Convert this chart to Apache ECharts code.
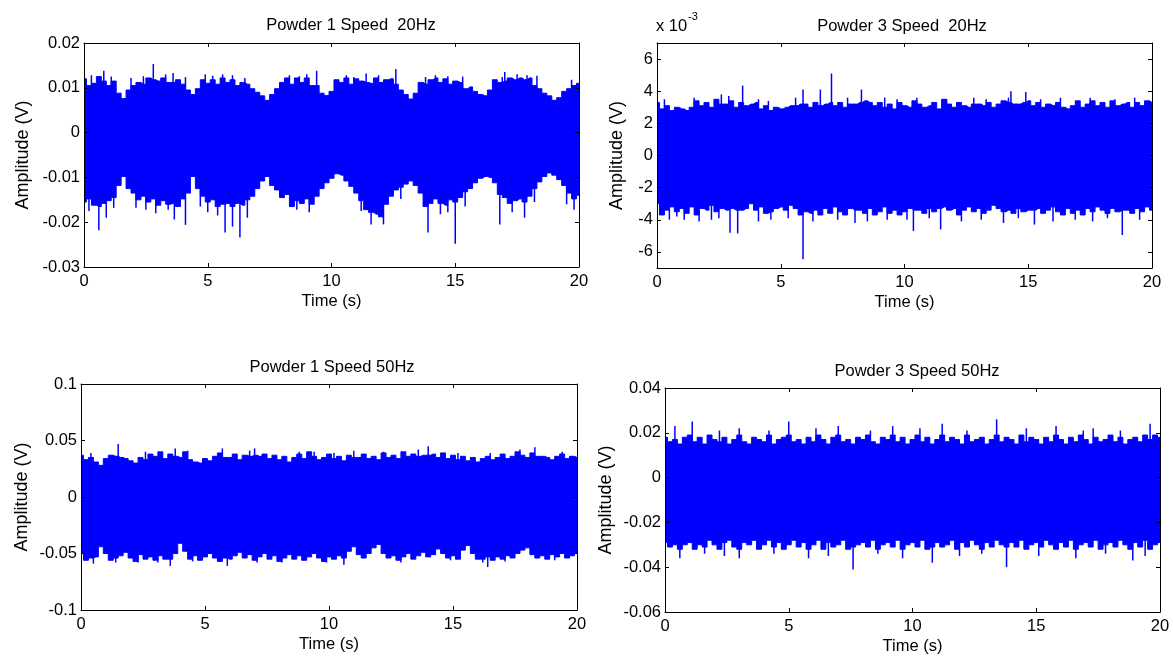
<!DOCTYPE html>
<html><head><meta charset="utf-8">
<script src="https://cdn.jsdelivr.net/npm/echarts@6/dist/echarts.min.js"></script>
<style>html,body{margin:0;padding:0;background:#fff}#c{width:1173px;height:659px}</style>
</head><body><div id="c"></div>
<script>
// ---------- data ----------
const EDGE_STEP = 0.2;   // s between envelope samples
const xTicks = [0, 5, 10, 15, 20];
const titles = ['Powder 1 Speed  20Hz', 'Powder 3 Speed  20Hz', 'Powder 1 Speed 50Hz', 'Powder 3 Speed 50Hz'];
const yTicks1 = [-0.03, -0.02, -0.01, 0, 0.01, 0.02];
const yTicks2 = [-6, -4, -2, 0, 2, 4, 6];          // x 10^-3
const yTicks3 = [-0.1, -0.05, 0, 0.05, 0.1];
const yTicks4 = [-0.06, -0.04, -0.02, 0, 0.02, 0.04];

// Panel 1 : Powder 1, 20 Hz (V) — upper / lower envelope every 0.2 s, plus isolated spikes [t, v]
const p1Hi = [0.012,0.0105,0.011,0.0125,0.0115,0.0105,0.0115,0.0088,0.0076,0.0095,0.0105,0.0112,0.0108,0.0122,0.0118,0.0115,0.0122,0.0112,0.0112,0.0118,0.0108,0.0095,0.0085,0.0098,0.0118,0.011,0.0118,0.0108,0.0122,0.0112,0.0118,0.0105,0.0112,0.0108,0.0098,0.009,0.0082,0.0072,0.0085,0.0098,0.0112,0.0122,0.0108,0.0122,0.0112,0.0122,0.0105,0.0105,0.0088,0.0083,0.0092,0.0118,0.0112,0.0122,0.0108,0.012,0.0115,0.0112,0.011,0.0122,0.0112,0.0118,0.012,0.0108,0.0095,0.0085,0.0075,0.0088,0.0112,0.0108,0.0118,0.0122,0.0112,0.012,0.0108,0.0115,0.0112,0.0098,0.0102,0.0092,0.0085,0.0082,0.0095,0.0118,0.0112,0.0115,0.0122,0.0118,0.0122,0.0118,0.0122,0.0105,0.0098,0.0088,0.0082,0.0072,0.0078,0.0092,0.0098,0.0105,0.011];
const p1Lo = [-0.0155,-0.0148,-0.0162,-0.0165,-0.0158,-0.0152,-0.0145,-0.0118,-0.0098,-0.0125,-0.0135,-0.015,-0.0142,-0.0155,-0.0148,-0.0162,-0.0152,-0.016,-0.0158,-0.0165,-0.0148,-0.0135,-0.0098,-0.0125,-0.0142,-0.0155,-0.015,-0.0165,-0.016,-0.0158,-0.0165,-0.0158,-0.0162,-0.015,-0.0142,-0.0125,-0.0108,-0.0098,-0.0118,-0.0128,-0.0145,-0.0138,-0.0165,-0.0152,-0.0158,-0.0148,-0.016,-0.0142,-0.0125,-0.0112,-0.0102,-0.0092,-0.0095,-0.0108,-0.012,-0.0135,-0.0152,-0.0172,-0.0178,-0.0182,-0.0188,-0.016,-0.0142,-0.0128,-0.0122,-0.0115,-0.0108,-0.0118,-0.0135,-0.0165,-0.0158,-0.0148,-0.0158,-0.0162,-0.015,-0.0155,-0.0145,-0.0132,-0.0125,-0.0112,-0.0102,-0.0098,-0.01,-0.0112,-0.0138,-0.0145,-0.0158,-0.0152,-0.0148,-0.0155,-0.0142,-0.0125,-0.011,-0.0098,-0.009,-0.0095,-0.0105,-0.0118,-0.0135,-0.0148,-0.014];
const p1SpikeHi = [[0.3,0.0128],[0.8,0.0138],[1.1,0.0125],[1.9,0.0122],[2.4,0.0126],[2.8,0.0153],[3.3,0.013],[3.6,0.0133],[4.1,0.0124],[4.9,0.013],[5.2,0.0127],[5.6,0.013],[6.0,0.0128],[6.5,0.0122],[8.3,0.0128],[8.7,0.0126],[9.0,0.013],[9.4,0.0138],[10.6,0.0128],[10.9,0.0124],[11.4,0.0132],[11.9,0.0128],[12.6,0.0142],[13.8,0.0124],[14.2,0.0128],[14.7,0.0126],[15.3,0.0125],[16.9,0.0124],[17.0,0.0135],[17.5,0.013],[17.9,0.0128],[18.3,0.0127],[19.7,0.0118]];
const p1SpikeLo = [[0.2,-0.0175],[0.6,-0.0218],[0.9,-0.019],[1.2,-0.0168],[2.1,-0.0168],[2.5,-0.0172],[2.9,-0.018],[3.4,-0.0172],[3.65,-0.0194],[4.1,-0.0206],[4.7,-0.0165],[5.0,-0.0178],[5.4,-0.0185],[5.7,-0.0223],[6.0,-0.021],[6.3,-0.0234],[6.6,-0.019],[8.6,-0.0172],[9.1,-0.0178],[11.2,-0.0175],[11.6,-0.0205],[12.1,-0.0205],[12.8,-0.0148],[13.9,-0.0223],[14.4,-0.0182],[14.7,-0.0178],[15.0,-0.0248],[15.4,-0.0165],[16.8,-0.0205],[17.3,-0.0178],[17.8,-0.019],[18.2,-0.0155],[19.5,-0.016],[19.8,-0.0172]];

// Panel 2 : Powder 3, 20 Hz (x 10^-3 V)
const p2Hi = [3.3,2.9,3.1,2.8,3.0,2.9,2.8,3.0,3.4,3.1,3.3,3.0,3.5,3.2,3.2,3.4,3.0,3.3,3.1,3.2,3.3,2.9,3.1,2.8,3.0,2.9,3.0,3.1,3.1,3.2,3.2,3.0,3.3,3.1,3.2,3.3,3.1,3.3,3.0,3.2,3.2,3.3,3.4,3.3,3.1,3.3,3.0,3.2,2.9,3.3,3.1,3.0,3.4,3.2,3.0,3.1,3.3,2.9,3.5,3.2,3.0,3.3,3.1,3.0,3.2,3.2,3.1,3.3,3.0,3.2,3.4,3.3,3.2,3.2,3.3,3.4,3.1,3.3,3.0,3.2,3.1,3.3,3.0,2.9,3.1,3.4,3.0,3.2,3.4,3.1,3.3,3.0,3.4,3.1,3.2,3.3,3.0,3.3,3.1,3.4,3.3];
const p2Lo = [-3.0,-3.7,-3.4,-3.2,-3.5,-3.3,-3.6,-3.2,-3.7,-3.3,-3.4,-3.1,-3.5,-3.3,-3.4,-3.3,-3.4,-3.4,-3.3,-3.0,-3.4,-3.2,-3.6,-3.5,-3.3,-3.2,-3.4,-3.1,-3.3,-3.7,-3.5,-3.6,-3.4,-3.7,-3.3,-3.6,-3.2,-3.5,-3.7,-3.3,-3.4,-3.4,-3.6,-3.3,-3.7,-3.5,-3.2,-3.6,-3.4,-3.7,-3.5,-3.3,-3.4,-3.4,-3.6,-3.3,-3.5,-3.3,-3.2,-3.4,-3.3,-3.7,-3.4,-3.2,-3.5,-3.3,-3.6,-3.4,-3.1,-3.3,-3.5,-3.4,-3.6,-3.3,-3.5,-3.4,-3.4,-3.3,-3.6,-3.4,-3.2,-3.5,-3.7,-3.3,-3.6,-3.4,-3.7,-3.3,-3.5,-3.2,-3.4,-3.6,-3.3,-3.5,-3.4,-3.4,-3.6,-3.3,-3.5,-3.2,-3.4];
const p2SpikeHi = [[0.3,3.5],[1.5,3.6],[2.6,3.8],[2.9,3.7],[3.46,4.35],[4.1,3.5],[4.5,3.4],[5.6,3.6],[5.9,4.1],[6.6,4.1],[7.05,5.1],[7.7,3.6],[8.26,4.1],[9.2,3.6],[9.7,3.5],[10.5,3.6],[11.7,3.5],[12.8,3.6],[13.3,3.5],[14.2,3.6],[14.3,4.0],[14.9,3.95],[15.5,3.5],[16.3,3.6],[17.5,3.6],[18.5,3.5],[19.3,3.6],[19.9,3.35]];
const p2SpikeLo = [[0.5,-4.0],[0.8,-3.8],[1.1,-4.0],[1.7,-4.1],[2.2,-4.0],[2.5,-3.9],[2.95,-4.8],[3.26,-4.85],[4.1,-4.1],[4.6,-4.0],[5.3,-3.9],[5.9,-6.45],[6.3,-4.1],[7.3,-4.0],[8.0,-4.2],[8.5,-4.1],[9.3,-4.0],[10.1,-4.0],[10.36,-4.7],[11.0,-3.9],[11.46,-4.6],[12.3,-4.1],[13.1,-4.0],[14.0,-4.2],[14.6,-3.9],[15.25,-4.3],[16.0,-4.1],[16.9,-4.0],[17.6,-4.1],[18.2,-3.9],[18.8,-4.95],[19.5,-4.0]];

// Panel 3 : Powder 1, 50 Hz (V)
const p3Hi = [0.037,0.033,0.035,0.031,0.028,0.034,0.037,0.036,0.035,0.034,0.032,0.030,0.035,0.033,0.038,0.036,0.040,0.034,0.038,0.036,0.035,0.040,0.033,0.031,0.030,0.034,0.032,0.036,0.039,0.035,0.035,0.038,0.033,0.037,0.036,0.037,0.036,0.038,0.034,0.037,0.033,0.036,0.031,0.035,0.038,0.034,0.040,0.036,0.033,0.035,0.038,0.034,0.036,0.032,0.037,0.035,0.035,0.038,0.034,0.036,0.033,0.039,0.035,0.037,0.034,0.040,0.036,0.038,0.036,0.037,0.037,0.038,0.035,0.039,0.034,0.037,0.033,0.036,0.032,0.035,0.031,0.034,0.036,0.033,0.035,0.038,0.034,0.036,0.040,0.037,0.035,0.039,0.036,0.036,0.035,0.033,0.036,0.038,0.034,0.036,0.035];
const p3Lo = [-0.05,-0.056,-0.054,-0.053,-0.044,-0.05,-0.056,-0.054,-0.052,-0.049,-0.054,-0.057,-0.051,-0.055,-0.053,-0.056,-0.052,-0.055,-0.055,-0.05,-0.041,-0.048,-0.055,-0.052,-0.056,-0.053,-0.05,-0.054,-0.057,-0.054,-0.055,-0.052,-0.049,-0.054,-0.051,-0.056,-0.053,-0.05,-0.055,-0.052,-0.057,-0.054,-0.051,-0.055,-0.052,-0.056,-0.053,-0.05,-0.054,-0.057,-0.053,-0.055,-0.052,-0.054,-0.048,-0.044,-0.051,-0.054,-0.05,-0.045,-0.042,-0.05,-0.054,-0.052,-0.056,-0.053,-0.05,-0.055,-0.052,-0.049,-0.053,-0.051,-0.046,-0.05,-0.054,-0.052,-0.055,-0.047,-0.043,-0.05,-0.055,-0.055,-0.053,-0.056,-0.053,-0.055,-0.052,-0.054,-0.05,-0.047,-0.045,-0.051,-0.054,-0.052,-0.055,-0.051,-0.053,-0.05,-0.054,-0.052,-0.05];
const p3SpikeHi = [[0.4,0.039],[1.5,0.047],[2.6,0.04],[3.8,0.043],[4.3,0.041],[5.7,0.043],[6.8,0.041],[7.0,0.043],[8.8,0.04],[9.4,0.04],[10.2,0.039],[11.0,0.041],[12.2,0.04],[13.6,0.042],[14.0,0.045],[15.2,0.039],[16.5,0.039],[17.7,0.042],[18.3,0.044],[19.4,0.04]];
const p3SpikeLo = [[0.5,-0.059],[1.4,-0.058],[2.3,-0.058],[3.1,-0.058],[3.6,-0.061],[4.5,-0.057],[5.9,-0.061],[7.1,-0.058],[8.1,-0.058],[9.9,-0.058],[10.6,-0.06],[12.9,-0.058],[14.9,-0.056],[16.2,-0.058],[16.4,-0.062],[17.1,-0.057],[19.1,-0.056]];

// Panel 4 : Powder 3, 50 Hz (V)
const p4Hi = [0.018,0.016,0.017,0.015,0.018,0.019,0.016,0.018,0.015,0.019,0.017,0.016,0.018,0.015,0.017,0.019,0.016,0.015,0.018,0.017,0.016,0.019,0.015,0.017,0.018,0.019,0.016,0.017,0.015,0.018,0.016,0.019,0.017,0.015,0.018,0.019,0.016,0.017,0.015,0.018,0.017,0.019,0.016,0.015,0.018,0.017,0.019,0.016,0.018,0.015,0.017,0.019,0.016,0.018,0.015,0.017,0.019,0.016,0.018,0.017,0.015,0.019,0.016,0.017,0.018,0.015,0.017,0.019,0.016,0.018,0.017,0.015,0.019,0.016,0.018,0.017,0.015,0.018,0.016,0.019,0.017,0.015,0.018,0.016,0.019,0.017,0.015,0.018,0.016,0.017,0.019,0.016,0.018,0.015,0.017,0.018,0.016,0.019,0.017,0.019,0.018];
const p4Lo = [-0.029,-0.031,-0.03,-0.032,-0.03,-0.029,-0.032,-0.03,-0.031,-0.028,-0.03,-0.032,-0.029,-0.028,-0.031,-0.032,-0.029,-0.03,-0.028,-0.032,-0.03,-0.028,-0.031,-0.029,-0.032,-0.03,-0.028,-0.031,-0.029,-0.032,-0.03,-0.028,-0.032,-0.029,-0.031,-0.03,-0.028,-0.032,-0.031,-0.03,-0.029,-0.031,-0.028,-0.032,-0.03,-0.029,-0.031,-0.028,-0.032,-0.03,-0.029,-0.031,-0.028,-0.032,-0.031,-0.029,-0.031,-0.03,-0.028,-0.032,-0.029,-0.031,-0.028,-0.03,-0.032,-0.029,-0.031,-0.028,-0.03,-0.031,-0.029,-0.031,-0.028,-0.032,-0.03,-0.029,-0.031,-0.028,-0.03,-0.032,-0.029,-0.031,-0.028,-0.032,-0.03,-0.029,-0.031,-0.028,-0.032,-0.03,-0.029,-0.031,-0.028,-0.03,-0.032,-0.029,-0.031,-0.028,-0.032,-0.03,-0.029];
const p4SpikeHi = [[0.4,0.023],[1.1,0.025],[2.2,0.021],[3.0,0.022],[4.2,0.021],[5.0,0.025],[6.1,0.022],[7.0,0.023],[8.3,0.021],[9.2,0.023],[10.3,0.022],[11.2,0.024],[12.2,0.021],[13.4,0.026],[14.6,0.022],[15.8,0.023],[16.9,0.021],[17.3,0.022],[18.4,0.021],[19.6,0.024]];
const p4SpikeLo = [[0.6,-0.036],[1.6,-0.034],[2.4,-0.035],[3.0,-0.036],[4.4,-0.034],[5.8,-0.036],[6.6,-0.035],[7.6,-0.041],[8.6,-0.034],[9.6,-0.036],[10.8,-0.038],[11.9,-0.035],[12.8,-0.034],[13.8,-0.04],[15.1,-0.035],[16.6,-0.036],[17.8,-0.034],[18.9,-0.037],[19.4,-0.035]];

// ---------- layout & style ----------
const FONT = "'Liberation Sans', Arial, Helvetica, sans-serif";
const FS = 16.5;
const BLUE = '#0000ff';
const panels = [
  {grid:{left:84, top:43, width:495, height:224}, ymin:-0.03, ymax:0.02, yt:yTicks1, tx:346, ty:12, gapY:52,
   hi:p1Hi, lo:p1Lo, sh:p1SpikeHi, sl:p1SpikeLo},
  {grid:{left:657, top:43, width:495, height:225}, ymin:-7, ymax:7, yt:yTicks2, tx:897, ty:13, gapY:31,
   hi:p2Hi, lo:p2Lo, sh:p2SpikeHi, sl:p2SpikeLo},
  {grid:{left:81, top:384, width:496, height:226}, ymin:-0.1, ymax:0.1, yt:yTicks3, tx:327, ty:354, gapY:50,
   hi:p3Hi, lo:p3Lo, sh:p3SpikeHi, sl:p3SpikeLo},
  {grid:{left:665, top:388, width:495, height:224}, ymin:-0.06, ymax:0.04, yt:yTicks4, tx:912, ty:358, gapY:50,
   hi:p4Hi, lo:p4Lo, sh:p4SpikeHi, sl:p4SpikeLo}
];

function timed(arr) { return arr.map((v, i) => [i * EDGE_STEP, v]); }

const lineBlack = {color:'#000', width:1};
const txt = {color:'#000', fontSize:FS, fontFamily:FONT};
const grids = [], xAxes = [], yAxes = [], series = [], titleList = [];

panels.forEach((p, g) => {
  grids.push(Object.assign({containLabel:false}, p.grid));
  titleList.push({text: titles[g], left: p.tx, top: p.ty, textAlign:'center',
    textStyle:{fontSize:FS, fontWeight:'normal', color:'#000', fontFamily:FONT}});
  xAxes.push({type:'value', gridIndex:g, position:'bottom', min:0, max:20, interval:5, z:10,
    axisLine:{show:true, onZero:false, lineStyle:lineBlack},
    axisTick:{show:true, inside:true, length:4, lineStyle:lineBlack, customValues:xTicks},
    axisLabel:Object.assign({show:true, margin:6, customValues:xTicks}, txt),
    splitLine:{show:false},
    name:'Time (s)', nameLocation:'middle', nameGap:26, nameTextStyle:txt});
  xAxes.push({type:'value', gridIndex:g, position:'top', min:0, max:20, interval:5, z:10,
    axisLine:{show:true, onZero:false, lineStyle:lineBlack},
    axisTick:{show:true, inside:true, length:4, lineStyle:lineBlack, customValues:xTicks},
    axisLabel:{show:false}, splitLine:{show:false}});
  yAxes.push({type:'value', gridIndex:g, position:'left', min:p.ymin, max:p.ymax, z:10,
    axisLine:{show:true, onZero:false, lineStyle:lineBlack},
    axisTick:{show:true, inside:true, length:4, lineStyle:lineBlack, customValues:p.yt},
    axisLabel:Object.assign({show:true, margin:4, customValues:p.yt}, txt),
    splitLine:{show:false},
    name:'Amplitude (V)', nameLocation:'middle', nameGap:p.gapY,
    nameTextStyle:{color:'#000', fontSize:18, fontFamily:FONT}});
  yAxes.push({type:'value', gridIndex:g, position:'right', min:p.ymin, max:p.ymax, z:10,
    axisLine:{show:true, onZero:false, lineStyle:lineBlack},
    axisTick:{show:true, inside:true, length:4, lineStyle:lineBlack, customValues:p.yt},
    axisLabel:{show:false}, splitLine:{show:false}});
  const base = {xAxisIndex:2*g, yAxisIndex:2*g, silent:true, animation:false};
  // blue from axis bottom up to the upper envelope
  series.push(Object.assign({}, base, {type:'line', step:'middle', symbol:'none', showSymbol:false,
    data:timed(p.hi), z:2, lineStyle:{color:BLUE, width:1},
    areaStyle:{color:BLUE, opacity:1, origin:'start'}}));
  // white below the lower envelope
  series.push(Object.assign({}, base, {type:'line', step:'middle', symbol:'none', showSymbol:false,
    data:timed(p.lo), z:3, lineStyle:{color:BLUE, width:1},
    areaStyle:{color:'#ffffff', opacity:1, origin:'start'}}));
  // isolated thin spikes
  series.push(Object.assign({}, base, {type:'bar', barWidth:1.5, z:4,
    itemStyle:{color:BLUE}, data:p.sh.concat(p.sl)}));
});

const chart = echarts.init(document.getElementById('c'), null, {renderer:'canvas'});
chart.setOption({
  backgroundColor:'#fff',
  animation:false,
  title:titleList,
  grid:grids, xAxis:xAxes, yAxis:yAxes, series:series,
  graphic:[
    {type:'text', x:656, y:18, style:{text:'x 10', fill:'#000', font:FS + 'px ' + FONT}},
    {type:'text', x:688, y:11, style:{text:'-3', fill:'#000', font:'11px ' + FONT}}
  ]
});
</script></body></html>
